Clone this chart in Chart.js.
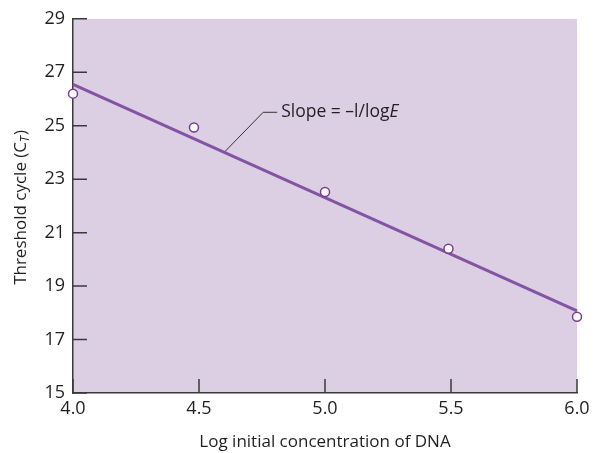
<!DOCTYPE html>
<html>
<head>
    <title>Threshold cycle vs log DNA</title>
    <script src="https://cdn.jsdelivr.net/npm/chart.js"></script>
    <style>
        body { margin: 0; background: #fff; }
    </style>
</head>
<body>

<canvas id="myChart" width="595" height="453"></canvas>

<script>
    // data
    const logConc = [4.0, 4.48, 5.0, 5.49, 6.0];
    const thresholdCycle = [26.2, 24.93, 22.52, 20.4, 17.85];
    const fitX = [4.0, 6.0];
    const fitY = [26.55, 18.07];
    const xTicks = [4.0, 4.5, 5.0, 5.5, 6.0];
    const yTicks = [15, 17, 19, 21, 23, 25, 27, 29];

    const FONT = "'Open Sans', sans-serif";
    const TEXT = '#231f20';
    const AXIS = '#3a3a3a';

    const decor = {
        id: 'decor',
        beforeDraw(chart) {
            const {ctx, chartArea: a} = chart;
            ctx.save();
            ctx.fillStyle = '#dccfe3';
            ctx.fillRect(a.left, a.top, a.right - a.left, a.bottom - a.top);
            ctx.restore();
        },
        beforeDatasetsDraw(chart) {
            // tick marks point into the plot
            const {ctx, chartArea: a, scales: {x, y}} = chart;
            ctx.save();
            ctx.strokeStyle = AXIS;
            ctx.lineWidth = 1.5;
            ctx.beginPath();
            yTicks.forEach(v => {
                const py = y.getPixelForValue(v);
                ctx.moveTo(a.left, py);
                ctx.lineTo(a.left + 14, py);
            });
            xTicks.forEach(v => {
                const px = x.getPixelForValue(v);
                ctx.moveTo(px, a.bottom);
                ctx.lineTo(px, a.bottom - 14);
            });
            ctx.stroke();

            // leader line + slope label
            const x0 = x.getPixelForValue(fitX[0]), y0 = y.getPixelForValue(fitY[0]);
            const x1 = x.getPixelForValue(fitX[1]), y1 = y.getPixelForValue(fitY[1]);
            const ax = x.getPixelForValue(4.6);
            const ay = y0 + (ax - x0) * (y1 - y0) / (x1 - x0);
            ctx.strokeStyle = '#333';
            ctx.lineWidth = 1;
            ctx.beginPath();
            ctx.moveTo(ax, ay);
            ctx.lineTo(ax + 39, ay - 40);
            ctx.lineTo(ax + 53, ay - 40);
            ctx.stroke();

            ctx.fillStyle = TEXT;
            ctx.textBaseline = 'middle';
            ctx.textAlign = 'left';
            ctx.font = '17.5px ' + FONT;
            const main = 'Slope = \u2013l/log';
            ctx.fillText(main, ax + 57, ay - 40);
            const w = ctx.measureText(main).width;
            ctx.font = 'italic 17.5px ' + FONT;
            ctx.fillText('E', ax + 57 + w, ay - 40);
            ctx.restore();
        },
        afterDraw(chart) {
            // y title with subscript T
            const {ctx, chartArea: a} = chart;
            const cy = (a.top + a.bottom) / 2 + 2;
            ctx.save();
            ctx.translate(21, cy);
            ctx.rotate(-Math.PI / 2);
            ctx.fillStyle = TEXT;
            ctx.textBaseline = 'middle';
            ctx.textAlign = 'left';
            const p1 = 'Threshold cycle (C', p2 = 'T', p3 = ')';
            ctx.font = '17px ' + FONT;
            const w1 = ctx.measureText(p1).width, w3 = ctx.measureText(p3).width;
            ctx.font = 'italic 12px ' + FONT;
            const w2 = ctx.measureText(p2).width;
            let sx = -(w1 + w2 + w3) / 2;
            ctx.font = '17px ' + FONT;
            ctx.fillText(p1, sx, 0);
            ctx.font = 'italic 12px ' + FONT;
            ctx.fillText(p2, sx + w1, 5);
            ctx.font = '17px ' + FONT;
            ctx.fillText(p3, sx + w1 + w2 + 1, 0);
            ctx.restore();
        }
    };

    const ctx = document.getElementById('myChart').getContext('2d');
    const chart = new Chart(ctx, {
        type: 'scatter',
        data: {
            datasets: [
                {
                    label: 'Measured',
                    data: logConc.map((v, i) => ({x: v, y: thresholdCycle[i]})),
                    pointRadius: 4.5,
                    pointBackgroundColor: '#ffffff',
                    pointBorderColor: '#7a3d94',
                    pointBorderWidth: 1.5,
                    showLine: false,
                },
                {
                    label: 'Fit',
                    data: fitX.map((v, i) => ({x: v, y: fitY[i]})),
                    showLine: true,
                    borderColor: '#8354a3',
                    borderWidth: 3,
                    pointRadius: 0,
                }
            ]
        },
        options: {
            responsive: false,
            animation: false,
            clip: false,
            layout: { padding: { top: 15, right: 18, left: 0, bottom: 0 } },
            plugins: {
                legend: { display: false },
                tooltip: { enabled: false }
            },
            scales: {
                x: {
                    type: 'linear',
                    min: 4, max: 6,
                    afterBuildTicks: s => { s.ticks = xTicks.map(v => ({value: v})); },
                    afterFit: s => { s.height = 60; },
                    grid: { display: false, drawTicks: false },
                    border: { display: true, color: AXIS, width: 1.5 },
                    ticks: {
                        padding: 5,
                        color: TEXT,
                        font: { family: FONT, size: 18 },
                        maxRotation: 0,
                        callback: v => Number(v).toFixed(1)
                    },
                    title: {
                        display: true,
                        text: 'Log initial concentration of DNA',
                        color: TEXT,
                        font: { family: FONT, size: 17 },
                        padding: { top: 0, bottom: 1 }
                    }
                },
                y: {
                    min: 15, max: 29,
                    afterBuildTicks: s => { s.ticks = yTicks.map(v => ({value: v})); },
                    afterFit: s => { s.width = 73; },
                    grid: { display: false, drawTicks: false },
                    border: { display: true, color: AXIS, width: 1.5 },
                    ticks: {
                        padding: 8,
                        color: TEXT,
                        font: { family: FONT, size: 18 }
                    }
                }
            }
        },
        plugins: [decor]
    });
</script>

</body>
</html>
